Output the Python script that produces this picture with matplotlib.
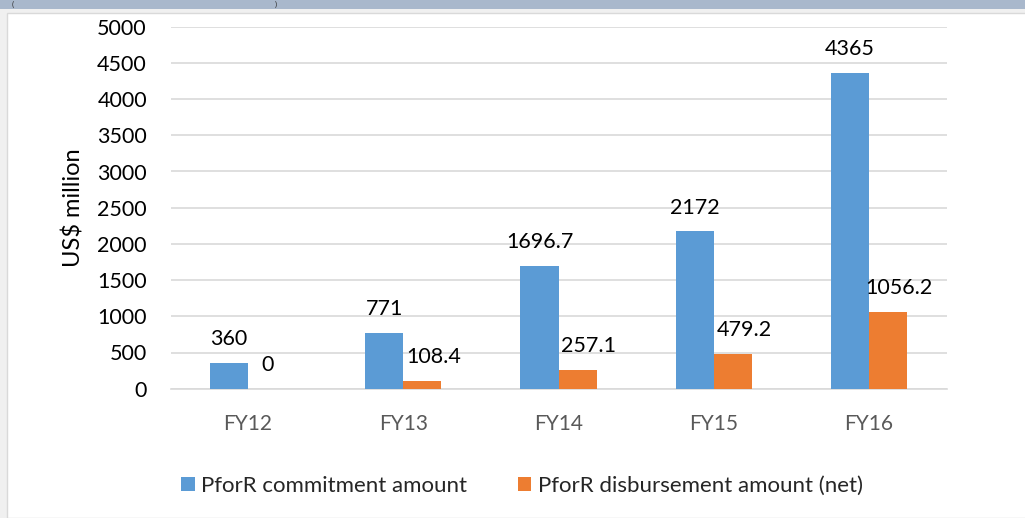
import matplotlib
matplotlib.use("Agg")
import matplotlib.pyplot as plt
from matplotlib.patches import Rectangle
import numpy as np

categories = ["FY12", "FY13", "FY14", "FY15", "FY16"]
commitment = [360, 771, 1696.7, 2172, 4365]
disbursement = [0, 108.4, 257.1, 479.2, 1056.2]
commit_labels = ["360", "771", "1696.7", "2172", "4365"]
disb_labels = ["0", "108.4", "257.1", "479.2", "1056.2"]
series_names = ["PforR commitment amount", "PforR disbursement amount (net)"]
yticks = [0, 500, 1000, 1500, 2000, 2500, 3000, 3500, 4000, 4500, 5000]

FONT = ["Lato", "DejaVu Sans"]
plt.rcParams["font.family"] = FONT

fig = plt.figure(figsize=(10.25, 5.18), dpi=100)
fig.patch.set_facecolor("#f0f0f0")
# top band and white panel
fig.patches.append(Rectangle((0, 1 - 9/518), 1, 9/518, transform=fig.transFigure,
                             facecolor="#a9b8cc", edgecolor="none", zorder=-10))
fig.patches.append(Rectangle((7/1025, 0), 1, 1 - 13/518, transform=fig.transFigure,
                             facecolor="white", edgecolor="#d9d9d9", linewidth=1, zorder=-10))
# caption parentheses in the top band
fig.text(13/1025, 1 - 4.5/518, "(", fontsize=5.5, color="#333333", ha="center", va="center")
fig.text(276/1025, 1 - 4.5/518, ")", fontsize=5.5, color="#333333", ha="center", va="center")

ax = fig.add_axes([170.5/1025, 129.3/518, 776/1025, 362/518])
ax.set_zorder(5)
ax.set_facecolor("none")
x = np.arange(len(categories))
w = 0.245
b1 = ax.bar(x - w/2, commitment, w, color="#5b9bd5", label=series_names[0], zorder=3)
b2 = ax.bar(x + w/2, disbursement, w, color="#ed7d31", label=series_names[1], zorder=3)

ax.set_xlim(-0.5, len(categories) - 0.5)
ax.set_ylim(0, 5000)
ax.set_yticks(yticks)
ax.set_yticklabels([str(t) for t in yticks], fontsize=15.5, color="#000000")
ax.set_xticks(x)
ax.set_xticklabels(categories, fontsize=15, color="#595959")
ax.tick_params(axis="y", length=0, pad=17)
ax.tick_params(axis="x", length=0, pad=18)
ax.grid(axis="y", color="#d9d9d9", linewidth=1.2, zorder=0)
for s in ["top", "right", "left"]:
    ax.spines[s].set_visible(False)
ax.spines["bottom"].set_color("#d9d9d9")
ax.spines["bottom"].set_linewidth(1.2)

ax.set_ylabel("US$ million", fontsize=17)
ax.yaxis.set_label_coords(-86/776, 0.5)

for i, (v, lab) in enumerate(zip(commitment, commit_labels)):
    ax.annotate(lab, (x[i] - w/2, v), xytext=(0, 10), textcoords="offset points",
                ha="center", va="bottom", fontsize=15.5)
for i, (v, lab) in enumerate(zip(disbursement, disb_labels)):
    dx = 0 if v == 0 else 8
    ax.annotate(lab, (x[i] + w/2, v), xytext=(dx, 10), textcoords="offset points",
                ha="center", va="bottom", fontsize=15.5)

leg = fig.legend(handles=[b1, b2], labels=series_names, loc="center",
                 bbox_to_anchor=(522/1025, 1 - 486/518), ncol=2, frameon=False,
                 fontsize=16, handlelength=0.6, handleheight=0.6, handletextpad=0.3,
                 columnspacing=2.25)
for t in leg.get_texts():
    t.set_color("#262626")

fig.savefig("out.png", dpi=100, facecolor=fig.get_facecolor())
